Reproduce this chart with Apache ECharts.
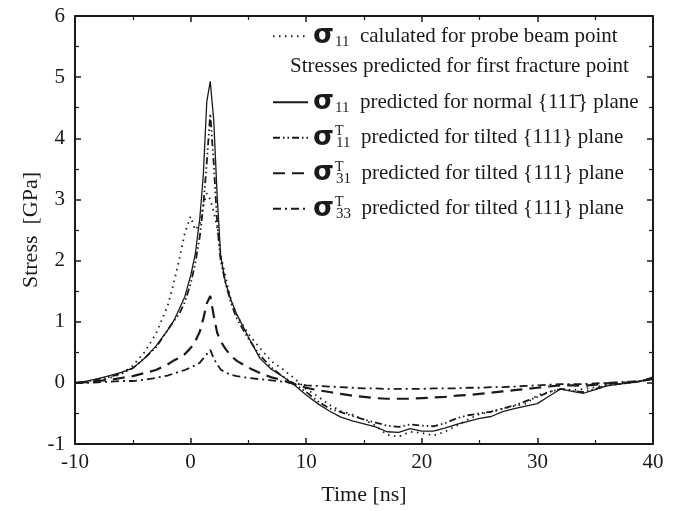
<!DOCTYPE html>
<html>
<head>
<meta charset="utf-8">
<script src="https://cdn.jsdelivr.net/npm/echarts@6/dist/echarts.min.js"></script>
<style>
  html, body { margin: 0; padding: 0; background: #fff; }
  #chart { width: 678px; height: 511px; }
</style>
</head>
<body>
<div id="chart"></div>
<script>
// time axis (ns), shared by all curves
var time = [-10, -9, -8, -7, -6, -5, -4, -3, -2, -1.5, -1, -0.5, 0, 0.4, 0.8, 1.1, 1.4, 1.7, 2.0, 2.3, 2.6, 3, 3.5, 4,
  5, 6, 7, 8, 9, 10, 11, 12, 13, 14, 15, 16, 17, 18, 19, 20, 21, 22, 23, 24, 25, 26, 27, 28, 29, 30,
  31, 32, 33, 34, 35, 36, 37, 38, 39, 40];

// sigma11 calculated for probe beam point (dotted)
var probe = [0, 0.01, 0.03, 0.08, 0.15, 0.28, 0.5, 0.8, 1.25, 1.6, 2.0, 2.45, 2.72, 2.5, 2.6, 2.9, 3.1, 3.0, 2.8, 2.55, 2.1, 1.75, 1.35, 1.1,
  0.8, 0.57, 0.35, 0.22, 0.07, -0.1, -0.22, -0.36, -0.46, -0.52, -0.6, -0.7, -0.85, -0.88, -0.8, -0.82,
  -0.86, -0.8, -0.7, -0.6, -0.51, -0.48, -0.42, -0.38, -0.34, -0.2, -0.15, -0.1, -0.12, -0.1, -0.07, -0.03, 0, 0.01, 0.03, 0.08];

// sigma11 predicted for normal plane (solid)
var normal = [0, 0.03, 0.07, 0.12, 0.17, 0.24, 0.4, 0.6, 0.86, 1.0, 1.2, 1.41, 1.75, 2.1, 2.7, 3.4, 4.6, 4.93, 4.3, 3.05, 2.08, 1.65, 1.35, 1.12,
  0.75, 0.4, 0.22, 0.1, -0.04, -0.2, -0.34, -0.46, -0.56, -0.62, -0.67, -0.72, -0.8, -0.81, -0.75, -0.79,
  -0.79, -0.74, -0.68, -0.63, -0.58, -0.55, -0.47, -0.42, -0.38, -0.34, -0.22, -0.1, -0.14, -0.17, -0.11, -0.05, -0.02, 0, 0.03, 0.1];

// sigma11^T predicted for tilted plane (dash-dot-dot)
var tilt11 = [0, 0.02, 0.06, 0.1, 0.15, 0.24, 0.4, 0.58, 0.86, 1.0, 1.12, 1.32, 1.62, 1.95, 2.4, 2.9, 3.6, 4.4, 3.6, 2.6, 2.0, 1.65, 1.3, 1.05,
  0.72, 0.45, 0.25, 0.1, -0.02, -0.15, -0.3, -0.42, -0.48, -0.54, -0.6, -0.65, -0.7, -0.72, -0.68, -0.7,
  -0.71, -0.66, -0.58, -0.53, -0.5, -0.47, -0.42, -0.37, -0.3, -0.23, -0.15, -0.1, -0.13, -0.15, -0.1, -0.04, -0.02, 0, 0.03, 0.08];

// sigma31^T predicted for tilted plane (long dash)
var tilt31 = [0, 0.01, 0.03, 0.05, 0.08, 0.11, 0.16, 0.21, 0.3, 0.36, 0.41, 0.47, 0.57, 0.68, 0.84, 1.05, 1.3, 1.42, 1.1, 0.82, 0.68, 0.56, 0.44, 0.36,
  0.25, 0.16, 0.09, 0.04, -0.02, -0.08, -0.12, -0.15, -0.18, -0.21, -0.23, -0.25, -0.26, -0.26, -0.26, -0.25,
  -0.24, -0.23, -0.21, -0.2, -0.18, -0.16, -0.14, -0.12, -0.1, -0.08, -0.06, -0.04, -0.04, -0.05, -0.03, -0.01, 0, 0.01, 0.03, 0.07];

// sigma33^T predicted for tilted plane (dash-dot)
var tilt33 = [0, 0, 0.01, 0.02, 0.03, 0.03, 0.05, 0.08, 0.12, 0.15, 0.18, 0.21, 0.25, 0.29, 0.33, 0.4, 0.47, 0.54, 0.4, 0.3, 0.22, 0.17, 0.13, 0.11,
  0.08, 0.06, 0.04, 0.02, -0.01, -0.04, -0.05, -0.06, -0.07, -0.08, -0.09, -0.09, -0.1, -0.1, -0.1, -0.1,
  -0.09, -0.09, -0.09, -0.08, -0.08, -0.07, -0.07, -0.06, -0.05, -0.04, -0.03, -0.02, -0.02, -0.02, -0.01, 0, 0.01, 0.02, 0.03, 0.06];

var xTicks = [-10, 0, 10, 20, 30, 40];
var yTicks = [-1, 0, 1, 2, 3, 4, 5, 6];

var serif = 'Liberation Serif';
var ink = '#1a1a1a';

function pairs(ys) {
  return time.map(function (t, i) { return [t, ys[i]]; });
}

var labels = {
  probe: '{sig|σ}{sub|11}  calulated for probe beam point',
  normal: '{sig|σ}{sub|11}  predicted for normal {11' + '1\u0304' + '} plane',
  tilt11: '{sig|σ}{sup|T}{sub|11}  predicted for tilted {111} plane',
  tilt31: '{sig|σ}{sup|T}{sub|31}  predicted for tilted {111} plane',
  tilt33: '{sig|σ}{sup|T}{sub|33}  predicted for tilted {111} plane'
};

var rich = {
  sig: { fontFamily: 'DejaVu Sans', fontWeight: 'bold', fontSize: 27, lineHeight: 26, color: ink },
  sub: { fontFamily: serif, fontSize: 15, lineHeight: 26, verticalAlign: 'bottom', color: ink, padding: [0, 0, 0, 1] },
  sup: { fontFamily: serif, fontSize: 14, lineHeight: 26, verticalAlign: 'top', width: 0.01, color: ink, padding: [0, 0, 0, 1] }
};

function legendBox(names, top, gap) {
  return {
    orient: 'vertical',
    left: 272,
    top: top,
    padding: 0,
    itemWidth: 35,
    itemHeight: 14,
    itemGap: gap,
    selectedMode: false,
    itemStyle: { opacity: 0 },
    data: names,
    formatter: function (n) { return labels[n]; },
    textStyle: { fontFamily: serif, fontSize: 21, color: ink, lineHeight: 26, rich: rich }
  };
}

function axisCommon(extra) {
  var a = {
    type: 'value',
    axisLine: { show: true, onZero: false, lineStyle: { color: ink, width: 2 } },
    axisTick: { show: true, inside: true, length: 6, lineStyle: { color: ink, width: 1.5 } },
    minorTick: { show: true, splitNumber: 2, length: 4, lineStyle: { color: ink, width: 1.2 } },
    splitLine: { show: false },
    minorSplitLine: { show: false }
  };
  for (var k in extra) a[k] = extra[k];
  return a;
}

function line(name, ys, width, dash) {
  return {
    name: name,
    type: 'line',
    data: pairs(ys),
    showSymbol: false,
    symbol: 'none',
    smooth: false,
    silent: true,
    animation: false,
    itemStyle: { color: ink },
    lineStyle: { color: ink, width: width, type: dash }
  };
}

var chart = echarts.init(document.getElementById('chart'), null, { renderer: 'canvas' });

chart.setOption({
  backgroundColor: '#fff',
  animation: false,
  grid: { left: 75, right: 25, top: 16, bottom: 67 },
  legend: [
    legendBox(['probe'], 22.7, 8.5),
    legendBox(['normal', 'tilt11', 'tilt31', 'tilt33'], 88.7, 8.5)
  ],
  graphic: [{
    type: 'text',
    left: 290,
    top: 56,
    style: { text: 'Stresses predicted for first fracture point', fontFamily: serif, fontSize: 21, fill: ink }
  }],
  xAxis: [
    axisCommon({
      position: 'bottom', min: xTicks[0], max: xTicks[xTicks.length - 1], interval: 10,
      name: 'Time [ns]', nameLocation: 'middle', nameGap: 40, nameMoveOverlap: false,
      nameTextStyle: { fontFamily: serif, fontSize: 22, color: ink },
      axisLabel: { fontFamily: serif, fontSize: 21, color: ink, margin: 8 }
    }),
    axisCommon({
      position: 'top', min: xTicks[0], max: xTicks[xTicks.length - 1], interval: 10,
      axisLabel: { show: false }
    })
  ],
  yAxis: [
    axisCommon({
      position: 'left', min: yTicks[0], max: yTicks[yTicks.length - 1], interval: 1,
      name: 'Stress  [GPa]', nameLocation: 'middle', nameGap: 33, nameMoveOverlap: false,
      nameTextStyle: { fontFamily: serif, fontSize: 22, color: ink },
      axisLabel: { fontFamily: serif, fontSize: 21, color: ink, margin: 10 }
    }),
    axisCommon({
      position: 'right', min: yTicks[0], max: yTicks[yTicks.length - 1], interval: 1,
      axisLabel: { show: false }
    })
  ],
  series: [
    line('probe', probe, 1.8, [1.5, 4.5]),
    line('normal', normal, 1.3, 'solid'),
    line('tilt11', tilt11, 1.8, [7, 3, 1.5, 3, 1.5, 3]),
    line('tilt31', tilt31, 2.2, [12, 7]),
    line('tilt33', tilt33, 1.8, [8, 4, 2, 4])
  ]
});
</script>
</body>
</html>
